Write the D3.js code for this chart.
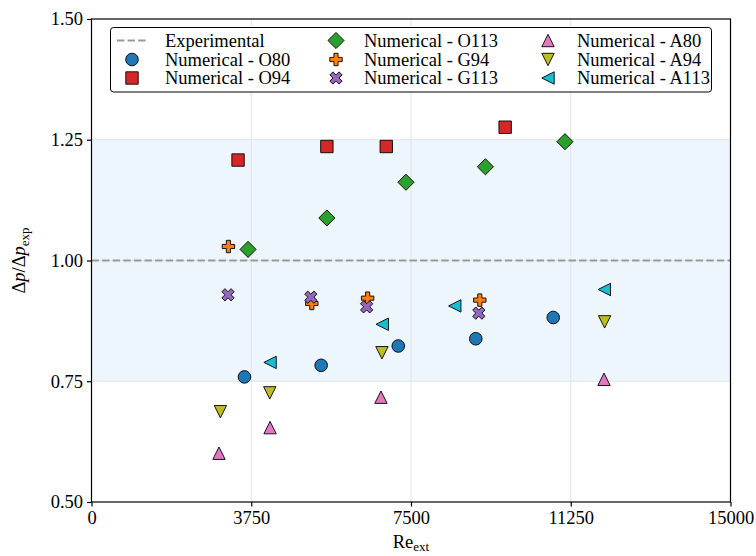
<!DOCTYPE html>
<html>
<head>
<meta charset="utf-8">
<script src="https://cdn.jsdelivr.net/npm/d3@7"></script>
<style>
  html, body { margin: 0; padding: 0; background: #ffffff; }
  svg text { font-family: "Liberation Serif", "DejaVu Serif", serif; fill: #000; }
</style>
</head>
<body>
<svg id="chart" width="756" height="556"></svg>
<script>
// Pressure-drop ratio versus external Reynolds number
const xTicks = [0, 3750, 7500, 11250, 15000];
const yTicks = [0.50, 0.75, 1.00, 1.25, 1.50];
const experimentalRatio = 1.0;
const toleranceBand = [0.75, 1.25];

const reO80  = [3590, 5391, 7201, 9021, 10839];
const dpO80  = [0.759, 0.783, 0.823, 0.838, 0.882];
const reO94  = [3440, 5525, 6919, 9710];
const dpO94  = [1.208, 1.236, 1.236, 1.276];
const reO113 = [3675, 5525, 7382, 9247, 11114];
const dpO113 = [1.023, 1.088, 1.162, 1.194, 1.246];
const reG94  = [3214, 5172, 6482, 9115];
const dpG94  = [1.029, 0.911, 0.922, 0.918];
const reG113 = [3205, 5149, 6459, 9092];
const dpG113 = [0.929, 0.924, 0.904, 0.891];
const reA80  = [2993, 4192, 6795, 12031];
const dpA80  = [0.601, 0.654, 0.717, 0.754];
const reA94  = [3026, 4185, 6818, 12045];
const dpA94  = [0.687, 0.726, 0.809, 0.873];
const reA113 = [4192, 6825, 8527, 12038];
const dpA113 = [0.789, 0.868, 0.906, 0.940];

const seriesNames = ["Numerical - O80", "Numerical - O94", "Numerical - O113",
                     "Numerical - G94", "Numerical - G113", "Numerical - A80",
                     "Numerical - A94", "Numerical - A113"];
const seriesColors = ["#1f77b4", "#d62728", "#2ca02c", "#ff7f0e", "#9467bd",
                      "#e377c2", "#bcbd22", "#17becf"];
const seriesShapes = ["circle", "square", "diamond", "plus", "x", "triUp", "triDown", "triLeft"];
const seriesX = [reO80, reO94, reO113, reG94, reG113, reA80, reA94, reA113];
const seriesY = [dpO80, dpO94, dpO113, dpG94, dpG113, dpA80, dpA94, dpA113];

const series = seriesNames.map((name, i) => ({
  name, color: seriesColors[i], shape: seriesShapes[i],
  points: seriesX[i].map((re, j) => ({ re, dp: seriesY[i][j] }))
}));

const svg = d3.select("#chart");
const margin = { left: 91.5, right: 756 - 730.5, top: 19, bottom: 556 - 502 };
const W = 756, H = 556;

const x = d3.scaleLinear().domain([0, 15000]).range([margin.left, W - margin.right]);
const y = d3.scaleLinear().domain([0.5, 1.5]).range([H - margin.bottom, margin.top]);

// marker outlines, r = half size in px
function markerPath(shape, r) {
  const p = d3.path();
  if (shape === "circle") {
    p.arc(0, 0, r, 0, 2 * Math.PI);
  } else if (shape === "square") {
    p.rect(-r, -r, 2 * r, 2 * r);
  } else if (shape === "diamond") {
    const d = r * 1.3;
    p.moveTo(0, -d); p.lineTo(d, 0); p.lineTo(0, d); p.lineTo(-d, 0); p.closePath();
  } else if (shape === "plus" || shape === "x") {
    const t = r / 3;
    const pts = [[-t, -r], [t, -r], [t, -t], [r, -t], [r, t], [t, t], [t, r], [-t, r],
                 [-t, t], [-r, t], [-r, -t], [-t, -t]];
    const ang = shape === "x" ? Math.PI / 4 : 0;
    const sc = shape === "x" ? 1.05 : 1;
    pts.forEach(([px, py], k) => {
      const qx = sc * (px * Math.cos(ang) - py * Math.sin(ang));
      const qy = sc * (px * Math.sin(ang) + py * Math.cos(ang));
      if (k === 0) p.moveTo(qx, qy); else p.lineTo(qx, qy);
    });
    p.closePath();
  } else {
    let pts = [[0, -r], [r, r], [-r, r]];
    if (shape === "triDown") pts = [[0, r], [r, -r], [-r, -r]];
    if (shape === "triLeft") pts = [[-r, 0], [r, -r], [r, r]];
    p.moveTo(pts[0][0], pts[0][1]); p.lineTo(pts[1][0], pts[1][1]);
    p.lineTo(pts[2][0], pts[2][1]); p.closePath();
  }
  return p.toString();
}
const markerR = { circle: 6.3, square: 6.2, diamond: 6.2, plus: 6.2, x: 6.2,
                  triUp: 6.2, triDown: 6.2, triLeft: 6.2 };

// tolerance band
svg.append("rect")
  .attr("x", x(0)).attr("width", x(15000) - x(0))
  .attr("y", y(toleranceBand[1])).attr("height", y(toleranceBand[0]) - y(toleranceBand[1]))
  .attr("fill", "#eef6fd");

// grid
const grid = svg.append("g").attr("stroke", "#e3e3e3").attr("stroke-width", 1);
xTicks.slice(1, -1).forEach(v => grid.append("line")
  .attr("x1", x(v)).attr("x2", x(v)).attr("y1", y(0.5)).attr("y2", y(1.5)));
yTicks.slice(1, -1).forEach(v => grid.append("line")
  .attr("x1", x(0)).attr("x2", x(15000)).attr("y1", y(v)).attr("y2", y(v)));

// experimental reference
svg.append("line")
  .attr("x1", x(0)).attr("x2", x(15000))
  .attr("y1", y(experimentalRatio)).attr("y2", y(experimentalRatio))
  .attr("stroke", "#999999").attr("stroke-width", 2)
  .attr("stroke-dasharray", "7.4,3.2");

// numerical results
series.forEach(s => {
  svg.append("g").selectAll("path").data(s.points).join("path")
    .attr("d", markerPath(s.shape, markerR[s.shape]))
    .attr("transform", d => `translate(${x(d.re)},${y(d.dp)})`)
    .attr("fill", s.color).attr("stroke", "#000").attr("stroke-width", 0.9)
    .attr("stroke-linejoin", "miter");
});

// frame
svg.append("rect")
  .attr("x", x(0)).attr("y", y(1.5))
  .attr("width", x(15000) - x(0)).attr("height", y(0.5) - y(1.5))
  .attr("fill", "none").attr("stroke", "#000").attr("stroke-width", 1.2);

// axes
const fontSize = 18.5;
const xAxis = svg.append("g").attr("transform", `translate(0,${y(0.5)})`)
  .call(d3.axisBottom(x).tickValues(xTicks).tickFormat(d3.format("d")).tickSizeOuter(0).tickSize(4.5).tickPadding(4));
const yAxis = svg.append("g").attr("transform", `translate(${x(0)},0)`)
  .call(d3.axisLeft(y).tickValues(yTicks).tickFormat(d3.format(".2f")).tickSizeOuter(0).tickSize(4.5).tickPadding(4));
[xAxis, yAxis].forEach(a => {
  a.select(".domain").remove();
  a.selectAll("line").attr("stroke", "#000").attr("stroke-width", 1.2);
  a.selectAll("text").attr("font-size", fontSize)
    .style("font-family", '"Liberation Serif", serif');
});

// axis titles
const xt = svg.append("text").attr("x", x(7500)).attr("y", 548)
  .attr("text-anchor", "middle").attr("font-size", fontSize);
xt.append("tspan").text("Re");
xt.append("tspan").attr("font-size", 13).attr("dy", 3).text("ext");

const yt = svg.append("text").attr("transform", `translate(25,${y(1.0)}) rotate(-90)`)
  .attr("text-anchor", "middle").attr("font-size", fontSize);
yt.append("tspan").text("Δ");
yt.append("tspan").attr("font-style", "italic").text("p");
yt.append("tspan").text("/Δ");
yt.append("tspan").attr("font-style", "italic").text("p");
yt.append("tspan").attr("font-size", 13).attr("dy", 4).text("exp");

// legend
const lg = svg.append("g");
lg.append("rect").attr("x", 110.5).attr("y", 27.5).attr("width", 601).attr("height", 64.5)
  .attr("rx", 3).attr("fill", "#fff").attr("fill-opacity", 0.9)
  .attr("stroke", "#000").attr("stroke-width", 1);
const rowY = [40.5, 59.5, 78];
const colMarkX = [132, 336, 548];
const colTextX = [165, 364, 577];
const legendItems = [{ name: "Experimental", line: true }].concat(series);
legendItems.forEach((it, i) => {
  const col = Math.floor(i / 3), row = i % 3;
  const cy = rowY[row];
  if (it.line) {
    lg.append("line").attr("x1", colMarkX[col] - 15).attr("x2", colMarkX[col] + 15)
      .attr("y1", cy).attr("y2", cy)
      .attr("stroke", "#999999").attr("stroke-width", 2).attr("stroke-dasharray", "7.4,3.2");
  } else {
    lg.append("path").attr("d", markerPath(it.shape, markerR[it.shape]))
      .attr("transform", `translate(${colMarkX[col]},${cy})`)
      .attr("fill", it.color).attr("stroke", "#000").attr("stroke-width", 0.9);
  }
  lg.append("text").attr("x", colTextX[col]).attr("y", cy).attr("dy", "0.35em")
    .attr("font-size", fontSize).text(it.name);
});
</script>
</body>
</html>
